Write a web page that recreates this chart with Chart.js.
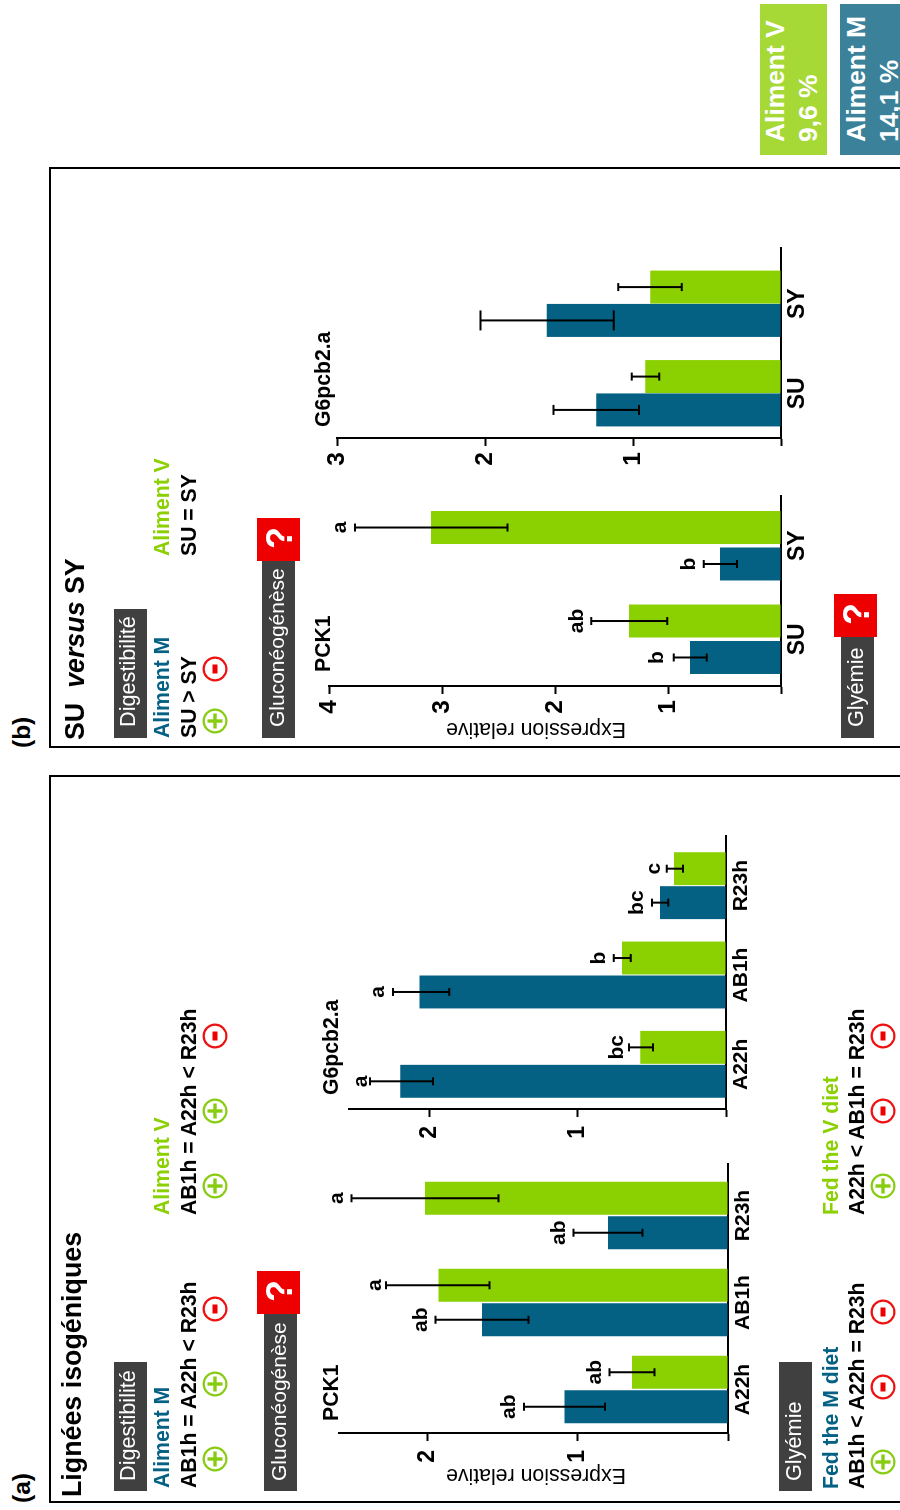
<!DOCTYPE html>
<html lang="fr">
<head>
<meta charset="utf-8">
<title>Lignées isogéniques</title>
<script src="https://cdn.jsdelivr.net/npm/chart.js@4"></script>
<style>
html,body{margin:0;padding:0;background:#fff;width:900px;height:1510px;overflow:hidden}
#stage{position:absolute;left:0;top:1510px;width:1510px;height:900px;transform-origin:0 0;transform:rotate(-90deg);font-family:"Liberation Sans",Arial,sans-serif;overflow:hidden}
#stage canvas{position:absolute;display:block}
.t{position:absolute;white-space:pre;line-height:1;transform:translateY(-50%)}
.b{position:absolute}
.f{position:absolute;border:2px solid #000;box-sizing:border-box}
svg{position:absolute;overflow:visible}
</style>
</head>
<body>
<div id="stage"></div>
<script>
// ---------- data ----------
const linesGroups = ['A22h', 'AB1h', 'R23h'];
const strainGroups = ['SU', 'SY'];

const pck1LinesM = [1.09, 1.64, 0.80];
const pck1LinesMLow = [0.82, 1.33, 0.57];
const pck1LinesMHigh = [1.36, 1.95, 1.03];
const pck1LinesV = [0.64, 1.93, 2.02];
const pck1LinesVLow = [0.49, 1.59, 1.53];
const pck1LinesVHigh = [0.79, 2.28, 2.51];
const pck1LinesMLetters = ['ab', 'ab', 'ab'];
const pck1LinesVLetters = ['ab', 'a', 'a'];

const g6LinesM = [2.20, 2.07, 0.446];
const g6LinesMLow = [1.98, 1.87, 0.39];
const g6LinesMHigh = [2.405, 2.25, 0.50];
const g6LinesV = [0.58, 0.703, 0.352];
const g6LinesVLow = [0.494, 0.644, 0.29];
const g6LinesVHigh = [0.655, 0.758, 0.40];
const g6LinesMLetters = ['a', 'a', 'bc'];
const g6LinesVLetters = ['bc', 'b', 'c'];

const pck1StrainM = [0.805, 0.54];
const pck1StrainMLow = [0.658, 0.39];
const pck1StrainMHigh = [0.95, 0.684];
const pck1StrainV = [1.345, 3.097];
const pck1StrainVLow = [1.006, 2.42];
const pck1StrainVHigh = [1.68, 3.77];
const pck1StrainMLetters = ['b', 'b'];
const pck1StrainVLetters = ['ab', 'a'];

const g6StrainM = [1.249, 1.582];
const g6StrainMLow = [0.959, 1.13];
const g6StrainMHigh = [1.538, 2.03];
const g6StrainV = [0.918, 0.884];
const g6StrainVLow = [0.822, 0.67];
const g6StrainVHigh = [1.008, 1.099];
const noLetters = ['', ''];

const seriesNames = ['Aliment M', 'Aliment V'];

// ---------- styles ----------
const TEAL = '#056184', GREEN = '#8bd000', DARK = '#404040', RED = '#ee0000';
const FONT = '"Liberation Sans", Arial, sans-serif';
const stage = document.getElementById('stage');

// ---------- chart helpers ----------
const errorBars = {
  id: 'errorBars',
  afterDatasetsDraw(chart, _a, opts) {
    const ctx = chart.ctx, y = chart.scales.y;
    chart.data.datasets.forEach((ds, d) => {
      chart.getDatasetMeta(d).data.forEach((bar, i) => {
        const top = y.getPixelForValue(ds.errHigh[i]);
        const bot = y.getPixelForValue(ds.errLow[i]);
        const cap = (ds.errCap ? ds.errCap[i] : 8) / 2;
        ctx.save();
        ctx.strokeStyle = '#000';
        ctx.lineWidth = 2;
        ctx.beginPath();
        ctx.moveTo(bar.x, top); ctx.lineTo(bar.x, bot);
        ctx.moveTo(bar.x - cap, top); ctx.lineTo(bar.x + cap, top);
        ctx.moveTo(bar.x - cap, bot); ctx.lineTo(bar.x + cap, bot);
        ctx.stroke();
        if (ds.letters && ds.letters[i]) {
          ctx.fillStyle = '#000';
          ctx.font = 'bold 21px ' + FONT;
          ctx.textAlign = 'center';
          ctx.textBaseline = 'alphabetic';
          ctx.fillText(ds.letters[i], bar.x, top - (ds.letterGap ? ds.letterGap[i] : 8.5));
        }
        ctx.restore();
      });
    });
    // the category axis runs a little past the last group
    const a = chart.chartArea;
    ctx.save();
    ctx.strokeStyle = '#000';
    ctx.lineWidth = 2;
    ctx.beginPath();
    ctx.moveTo(a.right - 1, Math.round(a.bottom));
    ctx.lineTo(a.right + opts.extend, Math.round(a.bottom));
    ctx.stroke();
    ctx.restore();
  }
};

function makeChart(cfg) {
  const PAD_T = 26, PAD_R = 16, YW = 70, XH = 40;
  const c = document.createElement('canvas');
  const w = YW + cfg.plotW + PAD_R, h = PAD_T + cfg.plotH + XH;
  c.width = w; c.height = h;
  c.style.width = w + 'px'; c.style.height = h + 'px';
  c.style.left = (cfg.plotLeft - YW) + 'px';
  c.style.top = (cfg.plotTop - PAD_T) + 'px';
  stage.appendChild(c);
  new Chart(c, {
    type: 'bar',
    plugins: [errorBars],
    data: {
      labels: cfg.labels,
      datasets: cfg.series.map((s, k) => ({
        label: seriesNames[k],
        data: s.values,
        errLow: s.low, errHigh: s.high, letters: s.letters, errCap: s.caps, letterGap: s.gaps,
        backgroundColor: k === 0 ? TEAL : GREEN,
        borderWidth: 0,
        categoryPercentage: cfg.catPct,
        barPercentage: cfg.barPct
      }))
    },
    options: {
      responsive: false,
      animation: false,
      devicePixelRatio: 1,
      layout: { autoPadding: false, padding: { top: PAD_T, right: PAD_R, left: 0, bottom: 0 } },
      plugins: { legend: { display: false }, tooltip: { enabled: false }, errorBars: { extend: cfg.extend } },
      scales: {
        x: {
          type: 'category',
          afterFit: s => { s.height = XH; s.paddingLeft = 0; s.paddingRight = 0; },
          grid: { display: false, drawTicks: false },
          border: { color: '#000', width: 2 },
          ticks: { color: '#000', font: { family: FONT, weight: 'bold', size: cfg.catSize }, padding: cfg.catPad, maxRotation: 0, minRotation: 0, autoSkip: false }
        },
        y: {
          min: 0, max: cfg.max,
          afterFit: s => { s.width = YW; s.paddingTop = 0; s.paddingBottom = 0; },
          grid: { drawOnChartArea: false, drawTicks: true, tickLength: 8, tickColor: '#000', tickWidth: 2 },
          border: { color: '#000', width: 2 },
          ticks: {
            stepSize: 1, includeBounds: false, color: '#000', padding: cfg.valPad,
            font: { family: FONT, weight: 'bold', size: cfg.valSize },
            callback: v => (v === 0 ? '' : v)
          }
        }
      }
    }
  });
}

makeChart({ labels: linesGroups, plotLeft: 77, plotW: 261, plotTop: 339, plotH: 389, max: 2.593, extend: 9,
  catPct: 0.793, barPct: 0.957, catSize: 21, catPad: 3, valSize: 23, valPad: 9,
  series: [
    { values: pck1LinesM, low: pck1LinesMLow, high: pck1LinesMHigh, letters: pck1LinesMLetters },
    { values: pck1LinesV, low: pck1LinesVLow, high: pck1LinesVHigh, letters: pck1LinesVLetters, gaps: [8.5, 5, 8.5] }
  ] });

makeChart({ labels: linesGroups, plotLeft: 401, plotW: 268, plotTop: 349, plotH: 377, max: 2.547, extend: 6,
  catPct: 0.76, barPct: 0.97, catSize: 21, catPad: 3, valSize: 23, valPad: 9,
  series: [
    { values: g6LinesM, low: g6LinesMLow, high: g6LinesMHigh, letters: g6LinesMLetters, gaps: [3.5, 8.5, 8.5] },
    { values: g6LinesV, low: g6LinesVLow, high: g6LinesVHigh, letters: g6LinesVLetters, gaps: [6, 8.5, 6.5] }
  ] });

makeChart({ labels: strainGroups, plotLeft: 824, plotW: 187, plotTop: 329, plotH: 452, max: 4, extend: 4,
  catPct: 0.78, barPct: 0.905, catSize: 23, catPad: 3, valSize: 24.5, valPad: 6,
  series: [
    { values: pck1StrainM, low: pck1StrainMLow, high: pck1StrainMHigh, letters: pck1StrainMLetters, gaps: [11, 8.5] },
    { values: pck1StrainV, low: pck1StrainVLow, high: pck1StrainVHigh, letters: pck1StrainVLetters }
  ] });

makeChart({ labels: strainGroups, plotLeft: 1072, plotW: 179, plotTop: 337, plotH: 444, max: 3, extend: 12,
  catPct: 0.745, barPct: 0.99, catSize: 23, catPad: 3, valSize: 24.5, valPad: 6,
  series: [
    { values: g6StrainM, low: g6StrainMLow, high: g6StrainMHigh, letters: noLetters, caps: [10, 20] },
    { values: g6StrainV, low: g6StrainVLow, high: g6StrainVHigh, letters: noLetters, caps: [8, 8] }
  ] });

// ---------- annotations ----------
function box(l, r, t, b, col) {
  const d = document.createElement('div');
  d.className = 'b';
  d.style.cssText = `left:${l}px;width:${r - l}px;top:${t}px;height:${b - t}px;background:${col}`;
  stage.appendChild(d);
}
function text(str, left, cy, font, col) {
  const d = document.createElement('div');
  d.className = 't';
  d.style.cssText = `left:${left}px;top:${cy - 0.4}px;font:${font} ${FONT};line-height:1;color:${col || '#000'}`;
  d.innerHTML = str;
  stage.appendChild(d);
}
function axisTitle(str, cx, cy) {
  const d = document.createElement('div');
  d.className = 't';
  d.style.cssText = `left:${cx}px;top:${cy}px;font:21.3px ${FONT};line-height:1;color:#000;transform:translate(-50%,-50%) rotate(-90deg)`;
  d.textContent = str;
  stage.appendChild(d);
}
function sign(cx, cy, plus) {
  const col = plus ? '#88cc11' : '#ee1111';
  const NS = 'http://www.w3.org/2000/svg';
  const s = document.createElementNS(NS, 'svg');
  s.setAttribute('width', 26); s.setAttribute('height', 26);
  s.style.left = (cx - 13) + 'px'; s.style.top = (cy - 13) + 'px';
  const shape = plus ? '<rect x="5.5" y="11.3" width="15" height="3.4"/><rect x="11.3" y="5.5" width="3.4" height="15"/>'
                     : '<rect x="8.5" y="10.5" width="9" height="5"/>';
  s.innerHTML = `<circle cx="13" cy="13" r="11.4" fill="none" stroke="${col}" stroke-width="2.2"/><g fill="${plus ? col : '#ee0000'}">${shape}</g>`;
  stage.appendChild(s);
}

// panel frames
[[7, 735], [762, 1343]].forEach(([l, r]) => {
  const d = document.createElement('div');
  d.className = 'f';
  d.style.cssText = `left:${l}px;width:${r - l}px;top:49px;height:900px`;
  stage.appendChild(d);
});

const B21 = 'bold 21.2px', R21 = '21.7px', G21 = '21px', B26 = 'bold 26.8px', B24 = 'bold 24.5px', Q = 'bold 36px';

// (a)
text('(a)', 7, 22, B24);
text('Lignées isogéniques', 13, 72, B26);
box(19, 148, 114, 147, DARK); text('Digestibilité', 29, 128.5, R21, '#fff');
box(19, 197, 264, 297, DARK); text('Gluconéogénèse', 29, 278.5, G21, '#fff');
box(196, 239, 257, 300, RED); text('?', 208, 280, Q, '#fff');
box(19, 148, 779, 812, DARK); text('Glyémie', 29, 794.5, R21, '#fff');
text('Aliment M', 22, 162, B21, TEAL);
text('AB1h = A22h &lt; R23h', 22, 189, B21);
text('Aliment V', 295, 162, B21, GREEN);
text('AB1h = A22h &lt; R23h', 295, 189, B21);
text('PCK1', 89, 331, B21);
text('G6pcb2.a', 415, 331, B21);
axisTitle('Expression relative', 35, 535.5);
text('Fed the M diet', 21, 831, B21, TEAL);
text('AB1h &lt; A22h = R23h', 21, 857.5, B21);
text('Fed the V diet', 295, 831, B21, GREEN);
text('A22h &lt; AB1h = R23h', 295, 857.5, B21);
[[51, 215, 1], [126, 215, 1], [201, 215, 0], [324, 215, 1], [399, 215, 1], [474, 215, 0],
 [48, 883, 1], [123, 883, 0], [198, 883, 0], [324, 883, 1], [399, 883, 0], [474, 883, 0]]
  .forEach(a => sign(a[0], a[1], !!a[2]));

// (b)
text('(b)', 762, 22, B24);
text('SU&nbsp;&nbsp;<i>versus</i> SY', 770, 75.5, B26);
box(772, 901, 114, 147, DARK); text('Digestibilité', 783, 128.5, R21, '#fff');
box(772, 949, 262, 295, DARK); text('Gluconéogénèse', 783, 276.5, G21, '#fff');
box(949, 992, 257, 300, RED); text('?', 961, 280, Q, '#fff');
box(772, 873, 841, 874, DARK); text('Glyémie', 783, 856.5, R21, '#fff');
box(873, 916, 834, 877, RED); text('?', 885, 857, Q, '#fff');
text('Aliment M', 772, 162, B21, TEAL);
text('SU &gt; SY', 772, 189, B21);
text('Aliment V', 954, 162, B21, GREEN);
text('SU = SY', 954, 189, B21);
text('PCK1', 838, 323, B21);
text('G6pcb2.a', 1083, 323, B21);
axisTitle('Expression relative', 780.5, 535.5);
sign(789, 215, true); sign(841, 215, false);

// diet boxes
box(1355, 1506, 760, 827, '#a6d936');
text('Aliment V', 1368, 775, 'bold 26.4px', '#fff');
text('9,6 %', 1368, 808, 'bold 26.4px', '#fff');
box(1355, 1506, 840, 900, '#3a8199');
text('Aliment M', 1368, 856, 'bold 26.4px', '#fff');
text('14,1 %', 1368, 889, 'bold 26.4px', '#fff');
</script>
</body>
</html>
